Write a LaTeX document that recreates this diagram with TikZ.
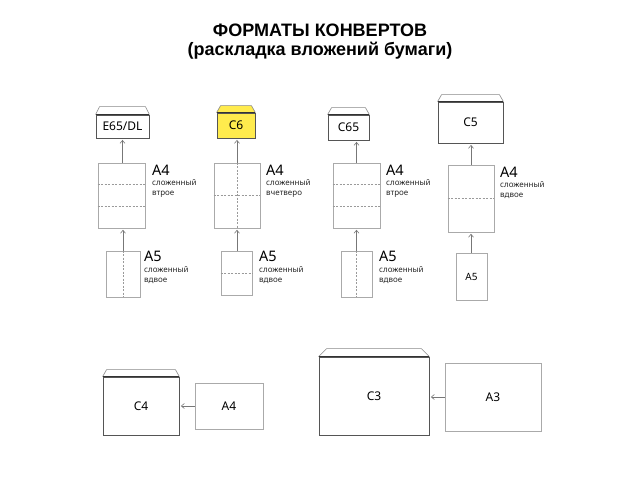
\documentclass[tikz,border=0pt]{standalone}
\usepackage{fontspec}
\setmainfont{Noto Sans}
\newfontfamily\ttlfont{Liberation Sans}
\usetikzlibrary{arrows.meta,calc}
\definecolor{envline}{HTML}{555555}
\definecolor{envtopc}{HTML}{333333}
\definecolor{flapline}{HTML}{8A8A8A}
\definecolor{paperline}{HTML}{AAAAAA}
\definecolor{foldline}{HTML}{9A9A9A}
\definecolor{arrowc}{HTML}{777777}
\definecolor{yel}{HTML}{FFEB4D}
\newcommand\myenvelope[9]{%
  \node[envbody, minimum width=#4pt, minimum height=#5pt, fill=#9] (#1) at (#2,#3) {#6};
  \filldraw[flapstyle, fill=#9] (#1.north west) -- ++(#8,-#7) -- ($(#1.north east)+(-#8,-#7)$) -- (#1.north east);
  \draw[envtop] (#1.north west) -- (#1.north east);
}
\tikzset{
  envbody/.style={draw=envline, line width=0.8pt, inner sep=0pt, font=\fontsize{12}{14}\selectfont, text=black},
  flapstyle/.style={draw=flapline, line width=0.6pt},
  envtop/.style={draw=envtopc, line width=1.1pt},
  paper/.style={draw=paperline, line width=0.6pt, inner sep=0pt, fill=white},
  fold/.style={draw=foldline, line width=0.5pt, dash pattern=on 2pt off 1.5pt},
  conn/.style={draw=arrowc, line width=0.6pt, -{Straight Barb[length=3pt,width=5pt]}, shorten >=1.5pt},
  big/.style={anchor=base west, inner sep=0pt, font=\fontsize{14.5}{16}\selectfont},
  small/.style={anchor=base west, inner sep=0pt, font=\fontsize{8}{9}\selectfont, text=black!85},
  ttl/.style={inner sep=0pt, anchor=base, font=\ttlfont\bfseries\fontsize{18}{20}\selectfont}
}
\begin{document}
\begin{tikzpicture}[x=1pt,y=-1pt]
\useasboundingbox (0,0) rectangle (640,480);
\fill[white] (0,0) rectangle (640,480);

% title
\node[ttl] (t1) at (320,36) {ФОРМАТЫ КОНВЕРТОВ};
\node[ttl] (t2) at (320,55) {(раскладка вложений бумаги)};

% ---------- column 1 : E65/DL ----------
\myenvelope{e1}{122.5}{126.5}{53}{23}{E65/DL}{8}{4}{white}
\node[paper, minimum width=47pt, minimum height=65pt] (a4a) at (121.5,195.5) {};
\draw[fold] ($(a4a.north west)!1/3!(a4a.south west)$) -- ($(a4a.north east)!1/3!(a4a.south east)$);
\draw[fold] ($(a4a.north west)!2/3!(a4a.south west)$) -- ($(a4a.north east)!2/3!(a4a.south east)$);
\node[paper, minimum width=34pt, minimum height=46pt] (a5a) at (123,274) {};
\draw[fold] (a5a.north) -- (a5a.south);
\draw[conn] (a4a.north -| e1.south) -- (e1.south);
\draw[conn] (a5a.north) -- (a5a.north |- a4a.south);
\node[big] (la4a) at (152,175) {A4};
\node[small] (sa4a1) at (152,185) {сложенный};
\node[small] (sa4a2) at (152,195) {втрое};
\node[big] (la5a) at (144,261) {A5};
\node[small] (sa5a1) at (144,272) {сложенный};
\node[small] (sa5a2) at (144,282) {вдвое};

% ---------- column 2 : C6 ----------
\myenvelope{e2}{236}{125.5}{38}{25}{C6}{7}{4}{yel}
\node[paper, minimum width=46pt, minimum height=65pt] (a4b) at (237,195.5) {};
\draw[fold] (a4b.west) -- (a4b.east);
\draw[fold] (a4b.north) -- (a4b.south);
\node[paper, minimum width=31pt, minimum height=44pt] (a5b) at (236.5,273) {};
\draw[fold] (a5b.west) -- (a5b.east);
\draw[conn] (a4b.north) -- (a4b.north |- e2.south);
\draw[conn] (a5b.north -| a4b.south) -- (a4b.south);
\node[big] (la4b) at (266,175) {A4};
\node[small] (sa4b1) at (266,185) {сложенный};
\node[small] (sa4b2) at (266,195) {вчетверо};
\node[big] (la5b) at (259,261) {A5};
\node[small] (sa5b1) at (259,272) {сложенный};
\node[small] (sa5b2) at (259,282) {вдвое};

% ---------- column 3 : C65 ----------
\myenvelope{e3}{348.5}{127.5}{41}{25}{C65}{7}{4}{white}
\node[paper, minimum width=47pt, minimum height=65pt] (a4c) at (356.5,195.5) {};
\draw[fold] ($(a4c.north west)!1/3!(a4c.south west)$) -- ($(a4c.north east)!1/3!(a4c.south east)$);
\draw[fold] ($(a4c.north west)!2/3!(a4c.south west)$) -- ($(a4c.north east)!2/3!(a4c.south east)$);
\node[paper, minimum width=31pt, minimum height=46pt] (a5c) at (356.5,274) {};
\draw[fold] (a5c.north) -- (a5c.south);
\draw[conn] (a4c.north) -- (a4c.north |- e3.south);
\draw[conn] (a5c.north) -- (a5c.north |- a4c.south);
\node[big] (la4c) at (386,175) {A4};
\node[small] (sa4c1) at (386,185) {сложенный};
\node[small] (sa4c2) at (386,195) {втрое};
\node[big] (la5c) at (379,261) {A5};
\node[small] (sa5c1) at (379,272) {сложенный};
\node[small] (sa5c2) at (379,282) {вдвое};

% ---------- column 4 : C5 ----------
\myenvelope{e4}{470.5}{122.5}{65}{41}{C5}{7}{4}{white}
\node[paper, minimum width=46pt, minimum height=67pt] (a4d) at (471,198.5) {};
\draw[fold] (a4d.west) -- (a4d.east);
\node[paper, minimum width=31pt, minimum height=47pt, font=\fontsize{10}{12}\selectfont] (a5d) at (471.5,276.5) {A5};
\draw[conn] (a4d.north) -- (a4d.north |- e4.south);
\draw[conn] (a5d.north -| a4d.south) -- (a4d.south);
\node[big] (la4d) at (500,177) {A4};
\node[small] (sa4d1) at (500,187) {сложенный};
\node[small] (sa4d2) at (500,197) {вдвое};

% ---------- bottom : C4 / A4 ----------
\myenvelope{c4}{141}{406}{76}{58}{C4}{7}{4}{white}
\node[paper, minimum width=68pt, minimum height=46pt, font=\fontsize{12}{14}\selectfont] (a4e) at (229,406) {A4};
\draw[conn] (a4e.west) -- (c4.east);

% ---------- bottom : C3 / A3 ----------
\myenvelope{c3}{374}{396}{110}{78}{C3}{8}{8}{white}
\node[paper, minimum width=96pt, minimum height=68pt, font=\fontsize{12}{14}\selectfont] (a3) at (493,397) {A3};
\draw[conn] (a3.west) -- (a3.west -| c3.east);
\end{tikzpicture}
\end{document}
